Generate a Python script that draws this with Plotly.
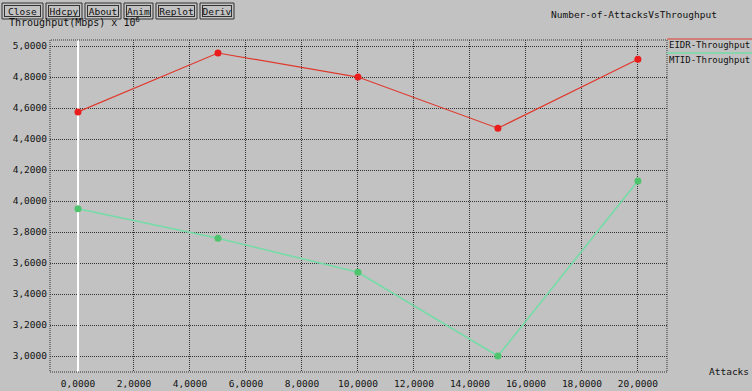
import plotly.graph_objects as go

# Number of attacks vs throughput for the two schemes
attacks = [0, 5, 10, 15, 20]
eidr_throughput = [4.575, 4.955, 4.80, 4.47, 4.915]
mtid_throughput = [3.95, 3.76, 3.54, 3.00, 4.13]

x_ticks = [0, 2, 4, 6, 8, 10, 12, 14, 16, 18, 20]
x_tick_text = ["0,0000", "2,0000", "4,0000", "6,0000", "8,0000", "10,0000",
               "12,0000", "14,0000", "16,0000", "18,0000", "20,0000"]
y_ticks = [3.0, 3.2, 3.4, 3.6, 3.8, 4.0, 4.2, 4.4, 4.6, 4.8, 5.0]
y_tick_text = ["3,0000", "3,2000", "3,4000", "3,6000", "3,8000", "4,0000",
               "4,2000", "4,4000", "4,6000", "4,8000", "5,0000"]

buttons = ["Close", "Hdcpy", "About", "Anim", "Replot", "Deriv"]
button_spans = [(2, 43), (46, 82), (85, 121), (124, 153), (156, 197), (200, 234)]

BG = "#c2c2c2"
FONT = "DejaVu Sans Mono"
W, H = 752, 391
L, R, T, B = 50, 667, 40, 372  # plot area in pixels


def px(x):
    return (x - L) / (R - L)


def py(y):
    return (B - y) / (B - T)


fig = go.Figure()
fig.add_trace(go.Scatter(
    x=attacks, y=eidr_throughput, mode="lines+markers", name="EIDR-Throughput",
    line=dict(color="#e03a2e", width=1.2),
    marker=dict(color="#ea1c1c", size=7),
))
fig.add_trace(go.Scatter(
    x=attacks, y=mtid_throughput, mode="lines+markers", name="MTID-Throughput",
    line=dict(color="#74dca6", width=1.6),
    marker=dict(color="#4ec46c", size=7),
))

shapes = [
    # dotted frame round the plotting area
    dict(type="rect", xref="paper", yref="paper", x0=0, x1=1, y0=0, y1=1,
         line=dict(color="#333333", width=1, dash="1px,1px"), layer="above"),
    # legend swatches
    dict(type="line", xref="paper", yref="paper", x0=px(667), x1=px(752),
         y0=py(39), y1=py(39), line=dict(color="#e03a2e", width=1.2)),
    dict(type="line", xref="paper", yref="paper", x0=px(667), x1=px(752),
         y0=py(53), y1=py(53), line=dict(color="#74dca6", width=1.6)),
]

annotations = [
    dict(text="Throughput(Mbps) x 10<sup>6</sup>", x=px(7), y=py(22),
         xref="paper", yref="paper", xanchor="left", yanchor="middle",
         showarrow=False, font=dict(family=FONT, size=10, color="#111111")),
    dict(text="Number-of-AttacksVsThroughput", x=px(634), y=py(15),
         xref="paper", yref="paper", xanchor="center", yanchor="middle",
         showarrow=False, font=dict(family=FONT, size=9.5, color="#111111")),
    dict(text="EIDR-Throughput", x=px(667), y=py(45),
         xref="paper", yref="paper", xanchor="left", yanchor="middle",
         showarrow=False, font=dict(family=FONT, size=9, color="#111111")),
    dict(text="MTID-Throughput", x=px(667), y=py(60),
         xref="paper", yref="paper", xanchor="left", yanchor="middle",
         showarrow=False, font=dict(family=FONT, size=9, color="#111111")),
    dict(text="Attacks", x=px(729), y=py(371),
         xref="paper", yref="paper", xanchor="center", yanchor="middle",
         showarrow=False, font=dict(family=FONT, size=9.5, color="#111111")),
]

# toolbar buttons with a double outline
for label, (x0, x1) in zip(buttons, button_spans):
    y0, y1 = 3, 19
    shapes.append(dict(type="rect", xref="paper", yref="paper",
                       x0=px(x0), x1=px(x1), y0=py(y1), y1=py(y0),
                       line=dict(color="#333333", width=1), fillcolor=BG,
                       layer="above"))
    annotations.append(dict(
        text=label, x=px(x0 + 2), y=py(y0 + 2), xref="paper", yref="paper",
        xanchor="left", yanchor="top", showarrow=False,
        width=(x1 - x0) - 6, height=(y1 - y0) - 6, borderpad=0,
        bordercolor="#333333", borderwidth=1, bgcolor=BG, align="center",
        valign="middle", font=dict(family=FONT, size=9.5, color="#111111")))

fig.update_layout(
    width=W, height=H,
    margin=dict(l=L, r=W - R, t=T, b=H - B, pad=0),
    paper_bgcolor=BG, plot_bgcolor=BG,
    showlegend=False,
    shapes=shapes, annotations=annotations,
    font=dict(family=FONT, size=9.5, color="#111111"),
)
fig.update_xaxes(
    range=[-1.0, 21.04], tickvals=x_ticks, ticktext=x_tick_text,
    showgrid=True, gridcolor="#333333", griddash="1px,1px", gridwidth=1,
    zeroline=True, zerolinecolor="#ffffff", zerolinewidth=1.5,
    ticks="", showline=False, ticklabelstandoff=4, automargin=False,
)
fig.update_yaxes(
    range=[2.897, 5.039], tickvals=y_ticks, ticktext=y_tick_text,
    showgrid=True, gridcolor="#333333", griddash="1px,1px", gridwidth=1,
    zeroline=False, ticks="", showline=False, ticklabelstandoff=2,
    automargin=False,
)

fig.write_html("out.html")
